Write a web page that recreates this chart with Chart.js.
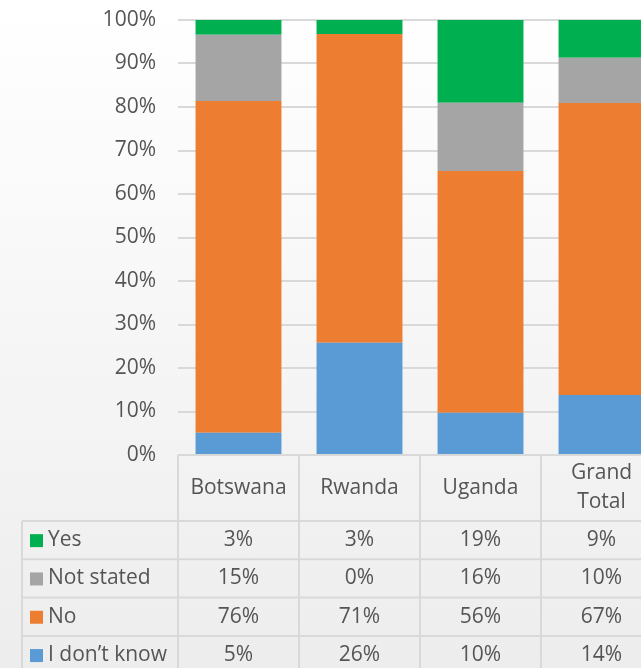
<!DOCTYPE html>
<html>
<head>
<meta charset="utf-8">
<script src="https://cdn.jsdelivr.net/npm/chart.js@4.4.0/dist/chart.umd.min.js"></script>
<style>
  html, body { margin: 0; padding: 0; overflow: hidden; background: #fff; }
  #wrap {
    width: 680px; height: 668px;
    background: linear-gradient(to bottom, #ffffff 0%, #f6f6f6 50%, #ededed 100%);
  }
  canvas { display: block; }
</style>
</head>
<body>
<div id="wrap"><canvas id="chart" width="680" height="668"></canvas></div>
<script>
const categories = ['Botswana', 'Rwanda', 'Uganda', ['Grand', 'Total']];
const dontKnow  = [5.1, 25.8, 9.7, 13.8];
const no        = [76.3, 71.0, 55.6, 67.1];
const notStated = [15.2, 0.0, 15.7, 10.4];
const yes       = [3.4, 3.2, 19.0, 8.7];
const yTicks    = [0, 10, 20, 30, 40, 50, 60, 70, 80, 90, 100];

const FONT = '"Open Sans", "Liberation Sans", sans-serif';
const TEXT = '#555555';
const LINE = '#d9d9d9';

// stacked bottom-to-top order; the table lists them top-to-bottom
const series = [
    { label: 'I don\u2019t know', data: dontKnow, color: '#5b9bd5' },
    { label: 'No', data: no, color: '#ed7d31' },
    { label: 'Not stated', data: notStated, color: '#a5a5a5' },
    { label: 'Yes', data: yes, color: '#00b050' }
];

// Excel-style data table under the plot, laid out on the x scale
const dataTable = {
    id: 'dataTable',
    afterDraw(chart) {
        const ctx = chart.ctx;
        const xs = chart.scales.x;
        const top = chart.chartArea.bottom;
        const n = categories.length;
        const colW = (xs.right - xs.left) / n;
        const headerBottom = top + 66;
        const rowH = 38.3;
        const tableLeft = 22;
        const rows = series.slice().reverse();
        const bottom = headerBottom + rowH * rows.length;

        ctx.save();
        ctx.strokeStyle = LINE;
        ctx.lineWidth = 2;
        ctx.beginPath();
        ctx.moveTo(xs.left, top); ctx.lineTo(xs.right, top);
        for (let r = 0; r <= rows.length; r++) {
            const y = headerBottom + r * rowH;
            ctx.moveTo(tableLeft, y); ctx.lineTo(xs.right, y);
        }
        for (let c = 0; c <= n; c++) {
            const x = xs.left + c * colW;
            ctx.moveTo(x, top); ctx.lineTo(x, bottom);
        }
        ctx.moveTo(tableLeft, headerBottom); ctx.lineTo(tableLeft, bottom);
        ctx.stroke();

        ctx.fillStyle = TEXT;
        ctx.font = '21px ' + FONT;
        ctx.textAlign = 'center';
        ctx.textBaseline = 'middle';
        categories.forEach((cat, c) => {
            const x = xs.getPixelForValue(c);
            const lines = Array.isArray(cat) ? cat : [cat];
            const lh = 29;
            const y0 = (top + headerBottom) / 2 - (lines.length - 1) * lh / 2;
            lines.forEach((t, i) => ctx.fillText(t, x, y0 + i * lh));
        });

        rows.forEach((s, r) => {
            const yMid = headerBottom + r * rowH + rowH / 2;
            ctx.fillStyle = s.color;
            ctx.fillRect(30, yMid - 6, 13, 13);
            ctx.fillStyle = TEXT;
            ctx.textAlign = 'left';
            ctx.fillText(s.label, 48, yMid);
            ctx.textAlign = 'center';
            s.data.forEach((v, c) => {
                ctx.fillText(Math.round(v) + '%', xs.getPixelForValue(c), yMid);
            });
        });
        ctx.restore();
    }
};

new Chart(document.getElementById('chart'), {
    type: 'bar',
    data: {
        labels: categories,
        datasets: series.map(s => ({
            label: s.label,
            data: s.data,
            backgroundColor: s.color,
            borderWidth: 0,
            categoryPercentage: 1,
            barPercentage: 0.71
        }))
    },
    plugins: [dataTable],
    options: {
        responsive: false,
        animation: false,
        layout: { padding: { top: 20, right: 18, bottom: 213, left: 0 } },
        plugins: {
            legend: { display: false },
            tooltip: { enabled: false }
        },
        scales: {
            x: {
                stacked: true,
                display: false
            },
            y: {
                stacked: true,
                min: 0,
                max: 100,
                afterBuildTicks: scale => {
                    scale.ticks = yTicks.map(v => ({ value: v }));
                },
                afterFit: scale => {
                    scale.width = 178;
                    scale.paddingTop = 0;
                    scale.paddingBottom = 0;
                },
                grid: { color: LINE, lineWidth: 2, drawTicks: false },
                border: { display: false },
                ticks: {
                    padding: 22,
                    color: TEXT,
                    font: { family: FONT, size: 21 },
                    callback: v => v + '%'
                }
            }
        }
    }
});
</script>
</body>
</html>
